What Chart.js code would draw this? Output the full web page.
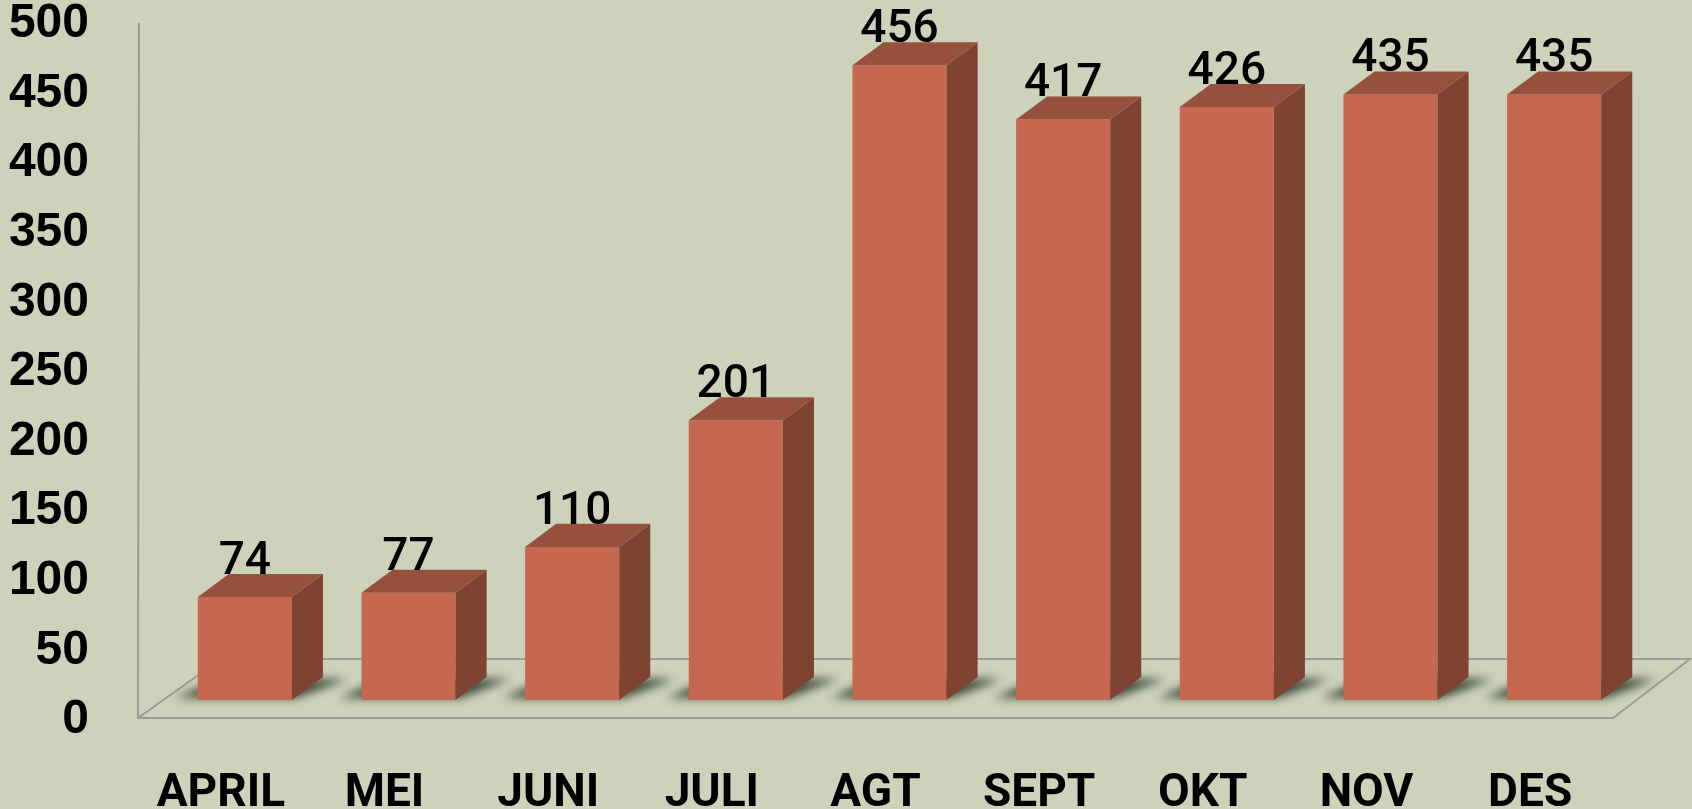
<!DOCTYPE html>
<html>
<head>
<meta charset="utf-8">
<script src="https://cdn.jsdelivr.net/npm/chart.js@4/dist/chart.umd.min.js"></script>
<style>
  html, body { margin: 0; padding: 0; background: #cdd2ba; }
  #wrap { width: 1692px; height: 809px; }
  canvas { display: block; }
</style>
</head>
<body>
<div id="wrap"><canvas id="c" width="1692" height="809"></canvas></div>
<script>
const categories = ['APRIL', 'MEI', 'JUNI', 'JULI', 'AGT', 'SEPT', 'OKT', 'NOV', 'DES'];
const values = [74, 77, 110, 201, 456, 417, 426, 435, 435];
const yMin = 0;
const yMax = 500;
const yStep = 50;

const FRONT = '#c5684f';
const SIDE = '#7f4332';
const TOP = '#96503e';
const FLOOR_LINE = '#9a9b9a';

const bar3d = {
  id: 'bar3d',
  beforeDatasetsDraw(chart) {
    const { ctx, chartArea: a } = chart;
    const meta = chart.getDatasetMeta(0);
    const w = meta.data[0].width;
    const dx = w * 0.33, dy = -w * 0.245;
    const fy = a.bottom + 18, by = a.bottom - 41;
    const flx = a.left - 25, frx = a.right - 23;
    const blx = a.left + 58, brx = a.right + 54;
    ctx.save();
    ctx.strokeStyle = FLOOR_LINE;
    ctx.lineWidth = 2;
    ctx.beginPath();
    ctx.moveTo(a.left - 24, a.top + 19);
    ctx.lineTo(flx, fy);
    ctx.lineTo(frx, fy);
    ctx.lineTo(brx, by);
    ctx.lineTo(blx, by);
    ctx.lineTo(flx, fy);
    ctx.stroke();
    ctx.restore();
    meta.data.forEach(el => {
      const x0 = el.x - el.width / 2, x1 = el.x + el.width / 2, b = el.base;
      ctx.save();
      ctx.filter = 'blur(5px)';
      ctx.fillStyle = 'rgba(40,50,36,0.85)';
      ctx.beginPath();
      ctx.moveTo(x0 - 22, b - 2);
      ctx.lineTo(x1 + 5, b - 2);
      ctx.lineTo(x1 + dx + 24, b + dy + 2);
      ctx.lineTo(x0 + dx - 10, b + dy + 2);
      ctx.closePath();
      ctx.fill();
      ctx.restore();
    });
  },
  afterDatasetsDraw(chart) {
    const { ctx } = chart;
    const meta = chart.getDatasetMeta(0);
    meta.data.forEach((el, i) => {
      const w = el.width;
      const dx = w * 0.33, dy = -w * 0.245;
      const x0 = el.x - w / 2, x1 = el.x + w / 2, t = el.y, b = el.base;
      ctx.save();
      ctx.fillStyle = SIDE;
      ctx.beginPath();
      ctx.moveTo(x1, t);
      ctx.lineTo(x1 + dx, t + dy);
      ctx.lineTo(x1 + dx, b + dy);
      ctx.lineTo(x1, b);
      ctx.closePath();
      ctx.fill();
      ctx.fillStyle = TOP;
      ctx.beginPath();
      ctx.moveTo(x0, t);
      ctx.lineTo(x0 + dx, t + dy);
      ctx.lineTo(x1 + dx, t + dy);
      ctx.lineTo(x1, t);
      ctx.closePath();
      ctx.fill();
      ctx.fillStyle = '#000';
      ctx.font = '500 46px Roboto, "Liberation Sans", Arial, sans-serif';
      ctx.textAlign = 'center';
      ctx.textBaseline = 'alphabetic';
      ctx.fillText(String(values[i]), el.x, t + dy);
      ctx.restore();
    });
  }
};

new Chart(document.getElementById('c'), {
  type: 'bar',
  data: {
    labels: categories,
    datasets: [{
      data: values,
      backgroundColor: FRONT,
      borderWidth: 0,
      barPercentage: 0.575,
      categoryPercentage: 1.0
    }]
  },
  options: {
    responsive: false,
    devicePixelRatio: 1,
    animation: false,
    layout: { padding: { top: 4, right: 56, left: 0, bottom: 0 } },
    plugins: { legend: { display: false }, tooltip: { enabled: false } },
    scales: {
      x: {
        grid: { display: false },
        border: { display: false },
        ticks: {
          color: '#000',
          font: { family: 'Roboto, "Liberation Sans", Arial, sans-serif', size: 46, weight: 'bold' },
          padding: 59,
          labelOffset: -24,
          maxRotation: 0,
          autoSkip: false
        },
        afterFit(scale) { scale.height = 109; scale.paddingLeft = 0; scale.paddingRight = 0; }
      },
      y: {
        min: yMin,
        max: yMax,
        grid: { display: false },
        border: { display: false },
        ticks: {
          stepSize: yStep,
          color: '#000',
          font: { family: '"Liberation Sans", Arial, sans-serif', size: 48, weight: 'bold' },
          padding: 66,
          labelOffset: 20
        },
        afterFit(scale) { scale.width = 163; scale.paddingTop = 0; scale.paddingBottom = 0; }
      }
    }
  },
  plugins: [bar3d]
});
</script>
</body>
</html>
